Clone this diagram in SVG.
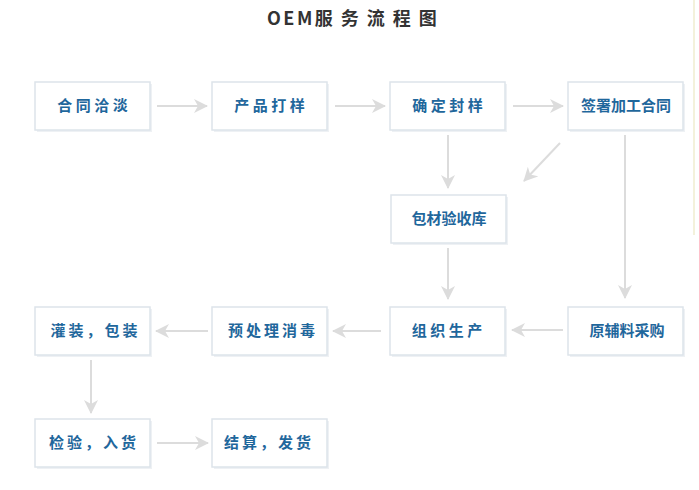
<svg xmlns="http://www.w3.org/2000/svg" width="699" height="490" viewBox="0 0 699 490">
<style>
.box{fill:#ffffff;stroke:#dde4ea;stroke-width:1.5}
.sh{fill:#eef1f4}
.lbl{font-family:"Noto Sans CJK SC","Noto Sans",sans-serif;font-size:15px;font-weight:bold;fill:#1f679c;text-anchor:middle}
.s4{letter-spacing:3.5px}
.s5{letter-spacing:3px}
.title{font-family:"Noto Sans CJK SC","Noto Sans",sans-serif;font-size:18px;font-weight:bold;fill:#333333}
.con{stroke:#dcdcdc;stroke-width:2;fill:none}
</style>
<defs>
<marker id="ah" viewBox="0 0 14 14" refX="13" refY="7" markerWidth="14" markerHeight="14" markerUnits="userSpaceOnUse" orient="auto">
<path d="M0,0 L14,7 L0,14 L4,7 Z" fill="#dcdcdc"/>
</marker>
</defs>
<rect x="0" y="0" width="699" height="490" fill="#ffffff"/>
<line x1="694" y1="0" x2="694" y2="235" stroke="#efedcf" stroke-width="1.5"/>
<text class="title" x="267" y="25"><tspan style="letter-spacing:2.5px">OEM</tspan><tspan style="letter-spacing:8px">服务流程图</tspan></text>

<g id="connectors">
<line class="con" x1="157" y1="106" x2="207" y2="106" marker-end="url(#ah)"/>
<line class="con" x1="335" y1="106" x2="385" y2="106" marker-end="url(#ah)"/>
<line class="con" x1="513" y1="106" x2="563" y2="106" marker-end="url(#ah)"/>
<line class="con" x1="448" y1="135" x2="448" y2="188" marker-end="url(#ah)"/>
<line class="con" x1="560" y1="143" x2="524" y2="181" marker-end="url(#ah)"/>
<line class="con" x1="625" y1="135" x2="625" y2="298" marker-end="url(#ah)"/>
<line class="con" x1="448" y1="248" x2="448" y2="299" marker-end="url(#ah)"/>
<line class="con" x1="563" y1="330" x2="512" y2="330" marker-end="url(#ah)"/>
<line class="con" x1="381" y1="331" x2="333" y2="331" marker-end="url(#ah)"/>
<line class="con" x1="208" y1="331" x2="156" y2="331" marker-end="url(#ah)"/>
<line class="con" x1="91" y1="360" x2="91" y2="413" marker-end="url(#ah)"/>
<line class="con" x1="157" y1="443" x2="208" y2="443" marker-end="url(#ah)"/>
</g>

<g id="n1"><rect class="sh" x="37" y="84" width="115" height="48"/><rect class="box" x="35" y="82" width="115" height="48"/><text class="lbl s4" x="94.3" y="111">合同洽淡</text></g>
<g id="n2"><rect class="sh" x="214" y="84" width="115" height="48"/><rect class="box" x="212" y="82" width="115" height="48"/><text class="lbl s4" x="271.3" y="111">产品打样</text></g>
<g id="n3"><rect class="sh" x="392" y="84" width="115" height="48"/><rect class="box" x="390" y="82" width="115" height="48"/><text class="lbl s4" x="449.3" y="111">确定封样</text></g>
<g id="n4"><rect class="sh" x="570" y="84" width="115" height="48"/><rect class="box" x="568" y="82" width="115" height="48"/><text class="lbl" x="626" y="111">签署加工合同</text></g>
<g id="n5"><rect class="sh" x="393" y="197" width="115" height="48"/><rect class="box" x="391" y="195" width="115" height="48"/><text class="lbl" x="449" y="224">包材验收库</text></g>
<g id="n6"><rect class="sh" x="570" y="309" width="115" height="48"/><rect class="box" x="568" y="307" width="115" height="48"/><text class="lbl" x="627" y="336">原辅料采购</text></g>
<g id="n7"><rect class="sh" x="392" y="309" width="115" height="48"/><rect class="box" x="390" y="307" width="115" height="48"/><text class="lbl s4" x="448.8" y="336">组织生产</text></g>
<g id="n8"><rect class="sh" x="214" y="309" width="115" height="48"/><rect class="box" x="212" y="307" width="115" height="48"/><text class="lbl s5" x="273" y="336">预处理消毒</text></g>
<g id="n9"><rect class="sh" x="37" y="309" width="115" height="48"/><rect class="box" x="35" y="307" width="115" height="48"/><text class="lbl s5" x="95.5" y="336">灌装，包装</text></g>
<g id="n10"><rect class="sh" x="37" y="421" width="115" height="48"/><rect class="box" x="35" y="419" width="115" height="48"/><text class="lbl s5" x="94" y="448">检验，入货</text></g>
<g id="n11"><rect class="sh" x="214" y="421" width="115" height="48"/><rect class="box" x="212" y="419" width="115" height="48"/><text class="lbl s5" x="269" y="448">结算，发货</text></g>
</svg>
